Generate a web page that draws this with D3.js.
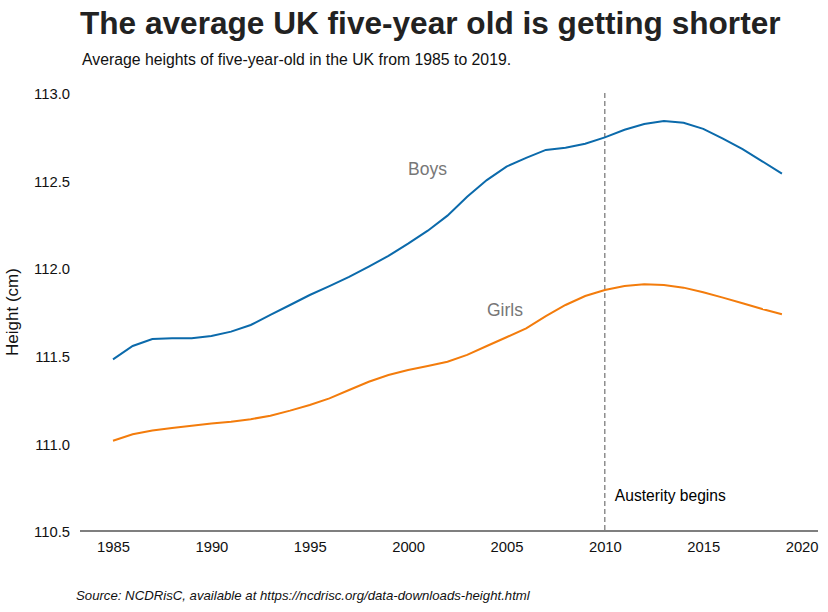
<!DOCTYPE html>
<html>
<head>
<meta charset="utf-8">
<script src="https://cdn.jsdelivr.net/npm/d3@7"></script>
<style>
  html, body { margin: 0; padding: 0; background: #fff; }
  svg { display: block; font-family: "Liberation Sans", Arial, sans-serif; }
</style>
</head>
<body>
<svg id="chart" width="828" height="612"></svg>
<script>
const years = d3.range(1985, 2020);
const boys = [111.48, 111.556, 111.596, 111.60, 111.60, 111.613, 111.638, 111.676, 111.733, 111.79,
  111.847, 111.898, 111.95, 112.009, 112.07, 112.14, 112.214, 112.30, 112.408, 112.503,
  112.58, 112.63, 112.675, 112.688, 112.71, 112.747, 112.79, 112.823, 112.84, 112.83,
  112.795, 112.74, 112.68, 112.61, 112.54];
const girls = [111.015, 111.052, 111.073, 111.088, 111.101, 111.113, 111.124, 111.138, 111.158, 111.187,
  111.219, 111.257, 111.305, 111.352, 111.39, 111.419, 111.442, 111.466, 111.505, 111.556,
  111.606, 111.657, 111.727, 111.79, 111.841, 111.876, 111.898, 111.908, 111.904, 111.889,
  111.863, 111.832, 111.80, 111.767, 111.737];
const xTicks = [1985, 1990, 1995, 2000, 2005, 2010, 2015, 2020];
const yTicks = [110.5, 111.0, 111.5, 112.0, 112.5, 113.0];
const austerityYear = 2010;

const svg = d3.select("#chart");
const x = d3.scaleLinear().domain([1985, 2020]).range([113, 801.6]);
const y = d3.scaleLinear().domain([110.5, 113.0]).range([531, 93]);

// Title & subtitle
svg.append("text").attr("x", 80).attr("y", 34)
  .attr("font-size", 31.6).attr("font-weight", "bold").attr("fill", "#222")
  .text("The average UK five-year old is getting shorter");
svg.append("text").attr("x", 82).attr("y", 65)
  .attr("font-size", 15.8).attr("fill", "#111")
  .text("Average heights of five-year-old in the UK from 1985 to 2019.");

// X axis
const xAxis = d3.axisBottom(x).tickValues(xTicks).tickFormat(d3.format("d")).tickSize(0).tickPadding(10);
const gx = svg.append("g").attr("transform", "translate(0,531)").call(xAxis);
gx.select(".domain").remove();
gx.append("line").attr("x1", 80).attr("x2", 818).attr("y1", 0).attr("y2", 0)
  .attr("stroke", "#000").attr("stroke-width", 1.2);
gx.selectAll("text").attr("font-size", 14.8).attr("fill", "#111").attr("font-family", "Liberation Sans, Arial, sans-serif");

// Y axis
const yAxis = d3.axisLeft(y).tickValues(yTicks).tickFormat(d3.format(".1f")).tickSize(0).tickPadding(0);
const gy = svg.append("g").attr("transform", "translate(70,1)").call(yAxis);
gy.select(".domain").remove();
gy.selectAll("text").attr("font-size", 14.8).attr("fill", "#111").attr("font-family", "Liberation Sans, Arial, sans-serif");

svg.append("text").attr("transform", "translate(18,312) rotate(-90)")
  .attr("text-anchor", "middle").attr("font-size", 17).attr("fill", "#111")
  .text("Height (cm)");

// Austerity line
svg.append("line").attr("x1", x(austerityYear)).attr("x2", x(austerityYear))
  .attr("y1", y(113.0)).attr("y2", 531)
  .attr("stroke", "#555").attr("stroke-width", 1).attr("stroke-dasharray", "5,3");
svg.append("text").attr("x", x(austerityYear) + 10).attr("y", 501)
  .attr("font-size", 15.6).attr("fill", "#000").text("Austerity begins");

// Lines
const line = d3.line().x((d, i) => x(years[i])).y(d => y(d));
svg.append("path").datum(boys).attr("d", line).attr("fill", "none")
  .attr("stroke", "#0b6aab").attr("stroke-width", 2);
svg.append("path").datum(girls).attr("d", line).attr("fill", "none")
  .attr("stroke", "#f37c0c").attr("stroke-width", 2);

// Series labels
svg.append("text").attr("x", 408).attr("y", 175).attr("font-size", 17.5).attr("fill", "#777").text("Boys");
svg.append("text").attr("x", 487).attr("y", 316).attr("font-size", 17.5).attr("fill", "#777").text("Girls");

// Source
svg.append("text").attr("x", 76).attr("y", 600)
  .attr("font-size", 13.2).attr("font-style", "italic").attr("fill", "#111")
  .text("Source: NCDRisC, available at https://ncdrisc.org/data-downloads-height.html");
</script>
</body>
</html>
